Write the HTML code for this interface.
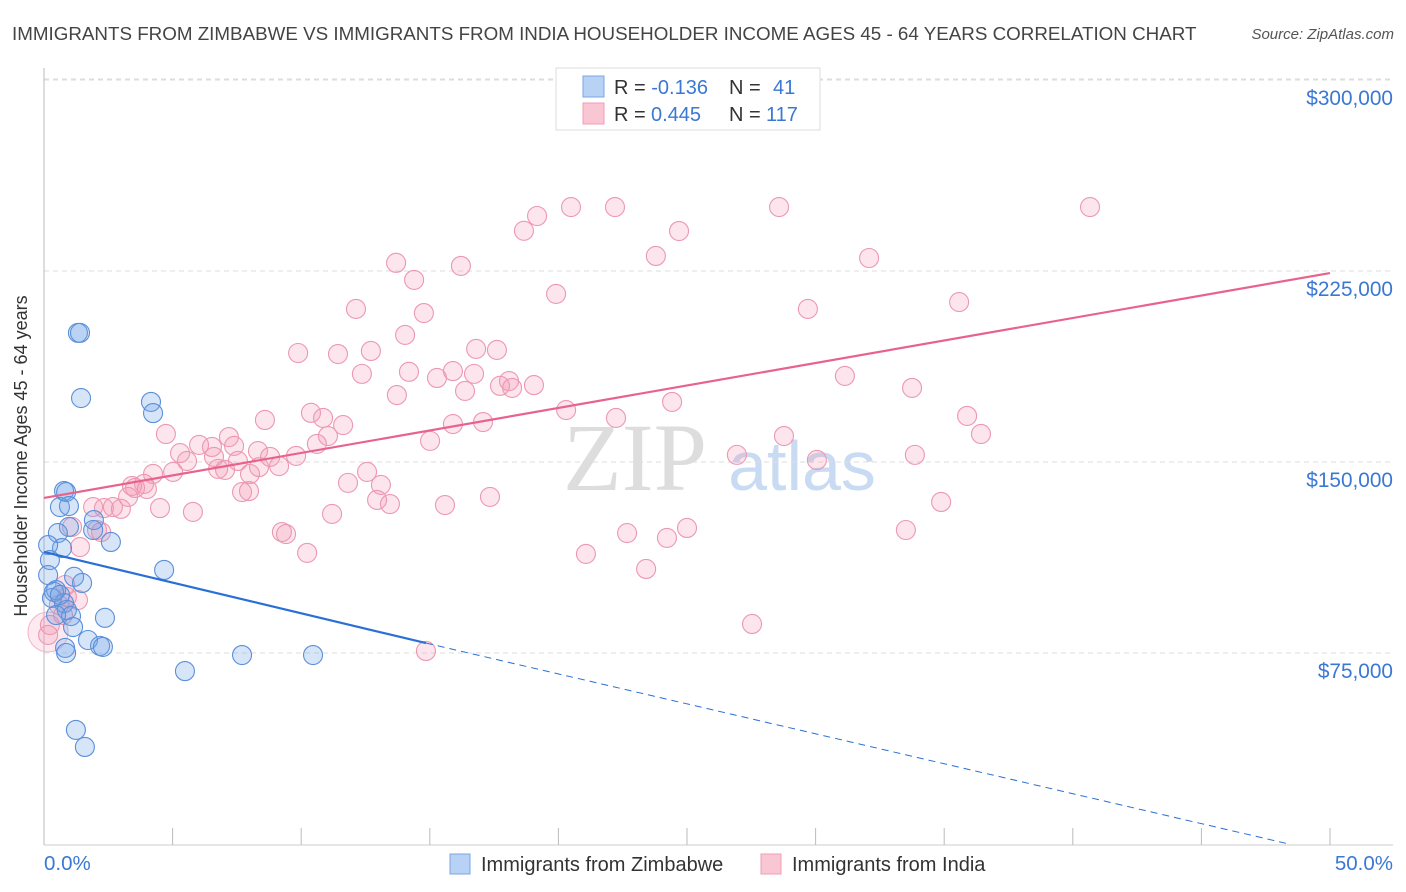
<!DOCTYPE html>
<html><head><meta charset="utf-8"><style>
body{margin:0;background:#fff;font-family:"Liberation Sans",sans-serif}
svg{display:block}
</style></head><body>
<svg width="1406" height="892" viewBox="0 0 1406 892">
<text x="12" y="40" font-size="18.8" fill="#444">IMMIGRANTS FROM ZIMBABWE VS IMMIGRANTS FROM INDIA HOUSEHOLDER INCOME AGES 45 - 64 YEARS CORRELATION CHART</text>
<text x="1394" y="39" font-size="15" fill="#555" font-style="italic" text-anchor="end">Source: ZipAtlas.com</text>
<g>
<text x="635" y="490" font-size="96" font-family="Liberation Serif,serif" fill="#ddd" text-anchor="middle">ZIP</text>
<text x="802" y="490" font-size="70" fill="#c9dbf2" text-anchor="middle">atlas</text>
</g>
<g id="grid"></g>
<line x1="44" y1="68" x2="44" y2="845" stroke="#bbb"/>
<line x1="44" y1="845" x2="1393" y2="845" stroke="#ccc"/>
<g id="xticks"></g>
<text x="27" y="456" font-size="18" fill="#333" text-anchor="middle" transform="rotate(-90 27 456)">Householder Income Ages 45 - 64 years</text>
<text x="44" y="870" font-size="20.5" fill="#3a78d4">0.0%</text>
<text x="1393" y="870" font-size="20.5" fill="#3a78d4" text-anchor="end">50.0%</text>
<circle cx="48" cy="632" r="20" fill="rgba(244,150,178,0.2)" stroke="#f2b5c8"/>
<g id="pts"></g>
<g id="lines"></g>
<g>
<rect x="556" y="68" width="264" height="62" fill="#fff" stroke="#ddd"/>
<rect x="583" y="76" width="21" height="21" fill="#b8d2f5" stroke="#7aa5e5"/>
<rect x="583" y="103" width="21" height="21" fill="#f9c6d4" stroke="#ef9db5"/>
<text x="614" y="94" font-size="20" fill="#333">R = <tspan fill="#3a78d4">-0.136</tspan><tspan x="729">N =</tspan><tspan x="773" fill="#3a78d4">41</tspan></text>
<text x="614" y="121" font-size="20" fill="#333">R = <tspan fill="#3a78d4" x="651">0.445</tspan><tspan x="729">N =</tspan><tspan x="766" fill="#3a78d4">117</tspan></text>
</g>
<g>
<rect x="450" y="854" width="20" height="20" fill="#b8d2f5" stroke="#7aa5e5"/>
<text x="481" y="871" font-size="20" fill="#333">Immigrants from Zimbabwe</text>
<rect x="761" y="854" width="20" height="20" fill="#f9c6d4" stroke="#ef9db5"/>
<text x="792" y="871" font-size="20" fill="#333">Immigrants from India</text>
</g>
</svg>
<script>
const yTicks=[75000,150000,225000,300000];
const yTickLabels=["$75,000","$150,000","$225,000","$300,000"];
const xTickVals=[0,5,10,15,20,25,30,35,40,45,50];
const zimX=[1.32,1.40,1.44,4.16,4.24,0.78,0.86,0.62,0.97,1.94,1.91,0.97,0.54,0.70,2.60,0.16,0.23,4.67,1.17,1.48,0.47,0.31,0.78,0.89,1.05,0.47,2.37,1.13,1.71,2.18,2.29,0.82,0.86,7.70,10.46,5.48,1.24,1.59,0.16,0.39,0.62];
const zimY=[200.7,200.7,175.1,173.6,169.2,138.6,138.2,132.3,132.7,127.2,123.3,124.5,122.1,116.2,118.6,117.4,111.5,107.6,104.9,102.5,99.7,96.6,94.6,91.9,89.5,89.9,88.8,85.2,80.1,77.8,77.4,77.0,75.0,74.2,74.2,67.9,44.8,38.1,105.6,99.0,97.8];
const indX=[40.67,20.49,22.20,28.58,19.17,18.66,24.69,23.79,32.08,13.69,16.21,14.39,19.91,35.58,12.13,29.70,14.77,14.04,9.88,11.43,12.71,16.80,17.61,12.36,14.19,15.28,15.90,16.72,31.14,17.73,18.08,18.20,19.05,16.37,13.72,33.75,20.30,24.42,35.89,10.38,10.85,11.63,15.90,17.07,22.24,8.59,4.74,36.43,28.77,11.04,15.01,10.61,7.19,6.03,7.39,6.53,8.32,26.94,33.86,5.29,9.80,8.79,5.56,6.61,7.54,30.05,8.36,9.14,6.77,4.24,5.02,8.01,3.89,3.42,3.54,11.82,13.10,7.97,4.00,7.70,12.56,7.04,17.34,34.88,3.27,12.95,13.45,15.59,4.51,1.91,2.33,2.68,2.99,5.79,11.20,9.25,9.41,25.00,22.67,33.51,2.22,2.06,1.40,21.07,10.23,24.22,23.41,27.53,14.85,1.09,0.82,0.58,0.23,0.16,0.89,1.32,0.74];
const indY=[250.1,250.1,250.1,250.1,246.6,240.8,240.7,230.9,230.1,228.2,227.0,221.5,216.0,212.8,210.1,210.1,208.5,199.9,192.8,192.4,193.6,194.4,194.0,184.6,185.4,183.0,185.7,184.6,183.8,179.9,181.8,179.1,180.2,177.9,176.3,179.1,170.4,173.6,168.1,169.3,167.3,164.5,164.9,165.7,167.3,166.5,161.0,161.0,160.2,160.2,158.3,157.1,159.8,156.7,156.3,155.9,154.3,152.8,152.8,153.5,152.4,152.0,150.4,152.0,150.4,150.8,148.0,148.4,147.3,145.3,146.1,145.3,141.4,140.6,139.8,141.8,141.0,138.6,139.4,138.2,146.1,146.9,136.3,134.3,136.3,135.1,133.5,133.1,131.9,132.3,131.9,132.3,131.6,130.4,129.6,122.5,121.7,124.1,122.1,123.3,122.5,123.3,116.6,113.9,114.3,120.2,108.0,86.4,75.8,124.5,101.7,93.9,86.0,82.1,97.0,95.8,89.9];
const zimLineX=[0,14.85,48.4];
const zimLineY=[114.7,78.9,0];
const indLineX=[0,50];
const indLineY=[135.9,224.2];
const NS="http://www.w3.org/2000/svg";
const xs=v=>44+v*25.72;
const ys=v=>844-v*191/75000;
const yk=v=>ys(v*1000);
function mk(t,a,p){const e=document.createElementNS(NS,t);for(const k in a)e.setAttribute(k,a[k]);p.appendChild(e);return e;}
const grid=document.getElementById('grid');
yTicks.forEach((t,i)=>{
 const l=mk('line',{x1:44,x2:1393,y1:ys(t),y2:ys(t),stroke:'#ddd','stroke-dasharray':'5,4'},grid);
 
 
 const tx=mk('text',{x:1393,y:ys(t)+25,'font-size':20.8,fill:'#3a78d4','text-anchor':'end'},grid);
 tx.textContent=yTickLabels[i];
 
 
});
const topGrid=mk('line',{x1:44,x2:1393,y1:79,y2:79,stroke:'#ddd','stroke-dasharray':'5,4'},grid);


const xt=document.getElementById('xticks');
xTickVals.forEach(v=>{
 const l=mk('line',{x1:xs(v),x2:xs(v),y1:828,y2:845,stroke:'#bbb'},xt);
 
 
});
const pts=document.getElementById('pts');
indX.forEach((x,i)=>{
 const c=mk('circle',{cx:xs(x),cy:yk(indY[i]),r:9.5,fill:'rgba(244,150,178,0.25)',stroke:'#ec98b2','stroke-width':1.1},pts);
 
 
});
zimX.forEach((x,i)=>{
 const c=mk('circle',{cx:xs(x),cy:yk(zimY[i]),r:9.5,fill:'rgba(110,160,230,0.28)',stroke:'#5b8fd9','stroke-width':1.1},pts);
 
 
});
const ln=document.getElementById('lines');
const z1=mk('line',{x1:xs(zimLineX[0]),y1:yk(zimLineY[0]),x2:xs(zimLineX[1]),y2:yk(zimLineY[1]),stroke:'#2a6fd6','stroke-width':2.2},ln);


const z2=mk('line',{x1:xs(zimLineX[1]),y1:yk(zimLineY[1]),x2:xs(zimLineX[2]),y2:yk(zimLineY[2]),stroke:'#2a6fd6','stroke-width':1,'stroke-dasharray':'7,5'},ln);


const i1=mk('line',{x1:xs(indLineX[0]),y1:yk(indLineY[0]),x2:xs(indLineX[1]),y2:yk(indLineY[1]),stroke:'#e8628e','stroke-width':2.2},ln);


</script>
</body></html>
